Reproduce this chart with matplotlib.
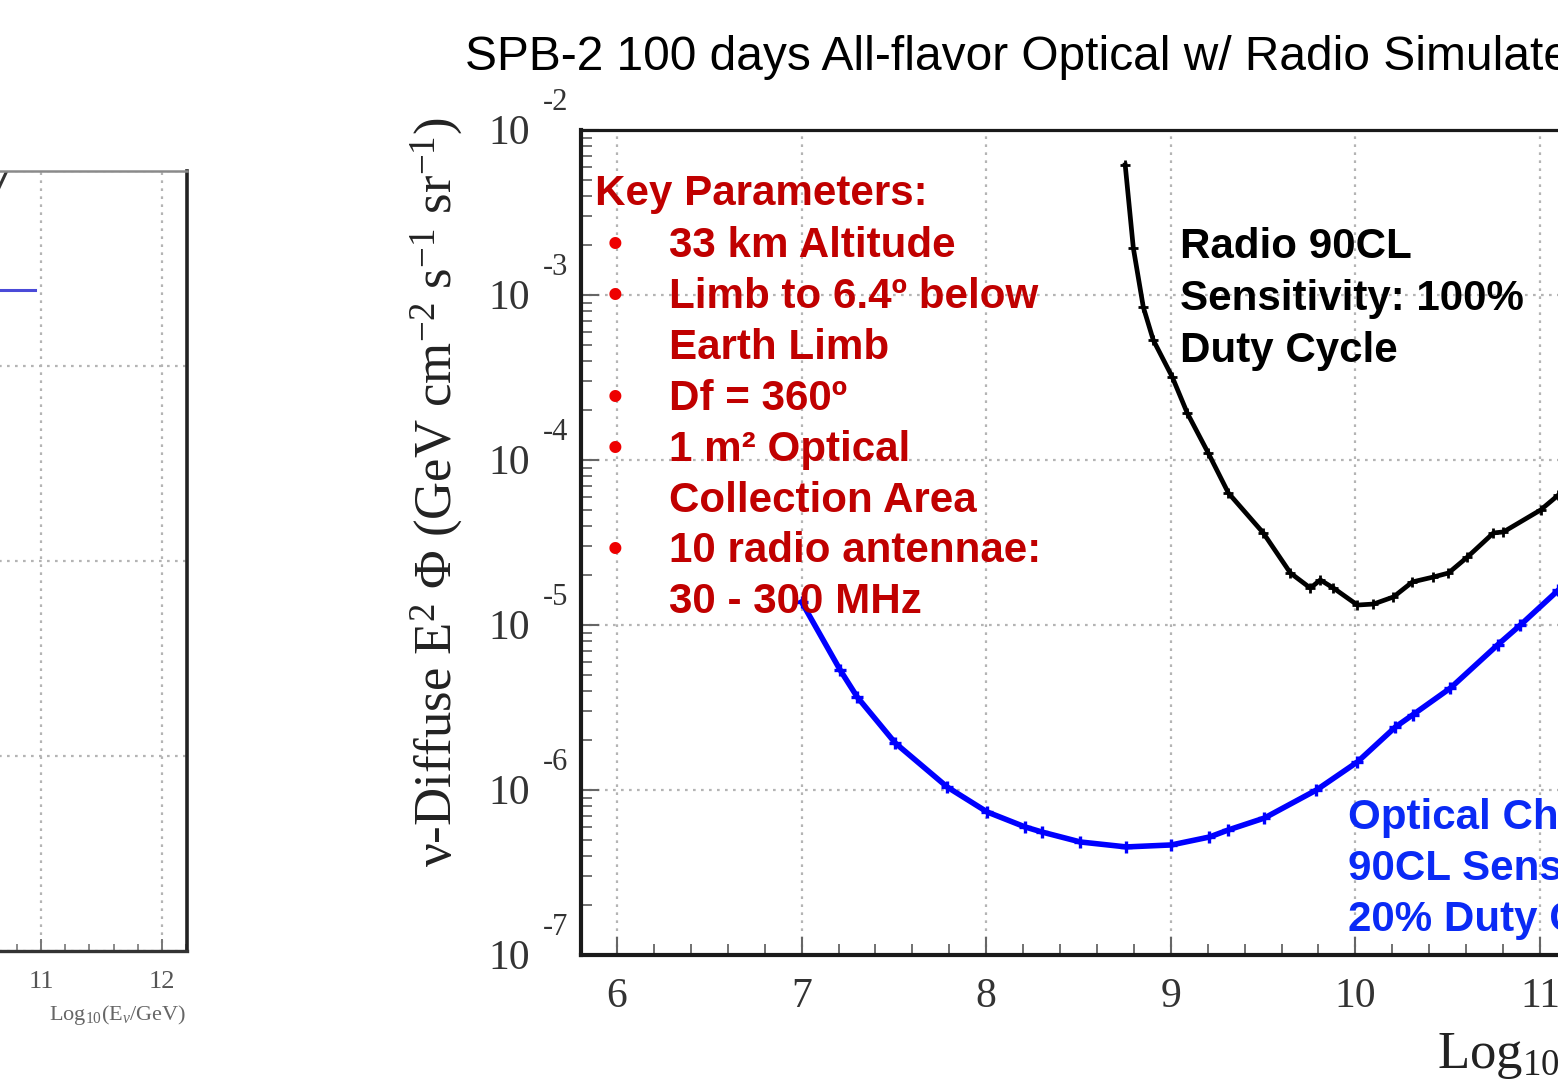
import matplotlib
matplotlib.use("Agg")
import matplotlib.pyplot as plt
from matplotlib.transforms import offset_copy
from matplotlib.ticker import FixedLocator, MultipleLocator, LogLocator, NullFormatter
import numpy as np

plt.rcParams['mathtext.fontset'] = 'custom'
plt.rcParams['mathtext.rm'] = 'Liberation Serif'
plt.rcParams['mathtext.it'] = 'Liberation Serif:italic'
plt.rcParams['mathtext.bf'] = 'Liberation Serif:bold'

W, H, DPI = 1558, 1080, 100

# ---- data: log10(E/GeV) and log10(E^2 Phi) ----
radio_logE = [8.753, 8.797, 8.851, 8.905, 9.008, 9.089, 9.203, 9.312, 9.501,
              9.648, 9.756, 9.810, 9.881, 10.011, 10.098, 10.206, 10.309,
              10.423, 10.504, 10.607, 10.748, 10.802, 11.003, 11.100, 11.200]
radio_logF = [-2.212, -2.715, -3.073, -3.273, -3.497, -3.715, -3.958, -4.200,
              -4.442, -4.685, -4.776, -4.727, -4.776, -4.879, -4.873, -4.830,
              -4.739, -4.709, -4.685, -4.588, -4.442, -4.436, -4.303, -4.212,
              -4.130]

optical_logE = [7.00, 7.209, 7.301, 7.507, 7.789, 8.005, 8.211, 8.303, 8.510,
                8.759, 9.003, 9.209, 9.312, 9.507, 9.789, 10.011, 10.217,
                10.310, 10.515, 10.770, 10.894, 11.100, 11.200]
optical_logF = [-4.860, -5.273, -5.436, -5.715, -5.982, -6.133, -6.224, -6.255,
                -6.315, -6.345, -6.333, -6.285, -6.242, -6.170, -6.000, -5.830,
                -5.618, -5.545, -5.382, -5.121, -5.000, -4.788, -4.690]

# neighbouring panel (only its right edge is in view)
left_blue_logE = [10.60, 10.95]
left_blue_logF = [-4.61, -4.61]
left_black_logE = [10.62, 10.74]
left_black_logF = [-4.13, -3.97]

x_major = [6, 7, 8, 9, 10, 11, 12]
y_decades = [-2, -3, -4, -5, -6, -7]
left_x_major = [11, 12]

title_text = "SPB-2 100 days All-flavor Optical w/ Radio Simulated"
key_header = "Key Parameters:"
key_lines = [(True, "33 km Altitude"),
             (True, "Limb to 6.4\u00ba below"),
             (False, "Earth Limb"),
             (True, "Df = 360\u00ba"),
             (True, "1 m\u00b2 Optical"),
             (False, "Collection Area"),
             (True, "10 radio antennae:"),
             (False, "30 - 300 MHz")]
radio_lines = ["Radio 90CL", "Sensitivity: 100%", "Duty Cycle"]
optical_lines = ["Optical Cherenkov", "90CL Sensitivity:", "20% Duty Cycle"]

SERIF = 'Liberation Serif'
SANS = 'Liberation Sans'


def fx(px):
    return px / W


def fy(py):
    return 1 - py / H


fig = plt.figure(figsize=(W / DPI, H / DPI), dpi=DPI, facecolor='white')

grid_kw = dict(color='#b4b4b4', lw=1.6, ls=(0, (1.2, 2.4)))

# ---------------- neighbouring panel ----------------
lx0, lx1 = 10.0, 12.207
l_ppd = 121.0
l_left = 187 - (lx1 - lx0) * l_ppd
axL = fig.add_axes([fx(l_left), fy(951), fx((lx1 - lx0) * l_ppd), (951 - 171) / H])
axL.set_xlim(lx0, lx1)
axL.set_yscale('log')
axL.set_ylim(1e-8, 1e-4)
axL.plot(left_blue_logE, 10 ** np.array(left_blue_logF), color='#4a4ad8', lw=2.2)
axL.plot(left_black_logE, 10 ** np.array(left_black_logF), color='#333333', lw=2.2)
axL.xaxis.set_major_locator(FixedLocator(left_x_major))
axL.xaxis.set_minor_locator(MultipleLocator(0.2))
axL.yaxis.set_major_locator(LogLocator(base=10, numticks=10))
axL.yaxis.set_minor_locator(LogLocator(base=10, subs=np.arange(2, 10), numticks=20))
axL.tick_params(axis='both', which='both', direction='in', colors='#777777',
                labelleft=False, labelbottom=False, left=False, top=False, right=False)
axL.tick_params(axis='x', which='major', length=9, width=1.4)
axL.tick_params(axis='x', which='minor', length=5, width=1.2)
axL.grid(True, which='major', **grid_kw)
axL.spines['top'].set_color('#8a8a8a')
axL.spines['top'].set_linewidth(1.8)
axL.spines['bottom'].set_color('#333333')
axL.spines['bottom'].set_linewidth(2.4)
axL.spines['right'].set_color('#222222')
axL.spines['right'].set_linewidth(2.6)
for v in left_x_major:
    axL.text(v, 0, str(v), transform=offset_copy(axL.get_xaxis_transform(), fig=fig, x=0, y=-37, units='dots'),
             ha='center', va='baseline', fontsize=19, family=SERIF, color='#555555')
fig.text(fx(186), fy(1020), r'Log$_{10}$(E$_{\nu}$/GeV)', ha='right', va='baseline',
         fontsize=16, family=SERIF, color='#666666')

# ---------------- main panel ----------------
x0, x1 = 5.805, 12.2
ppd = 184.6
ax = fig.add_axes([fx(581), fy(955), fx((x1 - x0) * ppd), (955 - 130) / H])
ax.set_xlim(x0, x1)
ax.set_yscale('log')
ax.set_ylim(1e-7, 1e-2)

ax.plot(radio_logE, 10 ** np.array(radio_logF), color='black', lw=3.4,
        marker='+', ms=7, mew=2.0, zorder=4)
ax.plot(optical_logE, 10 ** np.array(optical_logF), color='#0000ff', lw=4.0,
        marker='+', ms=9, mew=2.4, zorder=4)

ax.xaxis.set_major_locator(FixedLocator(x_major))
ax.xaxis.set_minor_locator(MultipleLocator(0.2))
ax.yaxis.set_major_locator(LogLocator(base=10, numticks=10))
ax.yaxis.set_minor_locator(LogLocator(base=10, subs=np.arange(2, 10), numticks=20))
ax.yaxis.set_minor_formatter(NullFormatter())
ax.tick_params(axis='both', which='both', direction='in', colors='#666666',
               labelleft=False, labelbottom=False, top=False, right=False)
ax.tick_params(axis='both', which='major', length=13, width=1.5)
ax.tick_params(axis='both', which='minor', length=8, width=1.3)
ax.grid(True, which='major', **grid_kw)
ax.spines['left'].set_linewidth(3.0)
ax.spines['bottom'].set_linewidth(3.0)
ax.spines['top'].set_linewidth(2.3)
for s in ['left', 'bottom', 'top']:
    ax.spines[s].set_color('#1a1a1a')
ax.spines['right'].set_visible(False)

for v in x_major:
    ax.text(v, 0, str(v), transform=offset_copy(ax.get_xaxis_transform(), fig=fig, x=0, y=-52, units='dots'),
            ha='center', va='baseline', fontsize=30, family=SERIF, color='#333333')
for d in y_decades:
    ax.text(0, 10.0 ** d, '10', transform=offset_copy(ax.get_yaxis_transform(), fig=fig, x=-51, y=-14, units='dots'),
            ha='right', va='baseline', fontsize=30, family=SERIF, color='#333333')
    ax.text(0, 10.0 ** d, str(d), transform=offset_copy(ax.get_yaxis_transform(), fig=fig, x=-38, y=20, units='dots'),
            ha='left', va='baseline', fontsize=22, family=SERIF, color='#333333')

fig.text(fx(437), fy(492), r'$\mathrm{\nu}$-Diffuse E$^{2}$ $\mathrm{\Phi}$ (GeV cm$^{-2}$ s$^{-1}$ sr$^{-1}$)',
         rotation=90, ha='center', va='center', fontsize=38, family=SERIF, color='#222222')
fig.text(fx(1437), fy(1068), r'Log$_{10}$(E$_{\nu}$/GeV)', ha='left', va='baseline',
         fontsize=38, family=SERIF, color='#222222')

fig.text(fx(465), fy(70), title_text, ha='left', va='baseline', fontsize=34.5,
         family=SANS, color='black')

# annotation blocks
red = '#c00000'
fs_note = 30.3
fig.text(fx(595), fy(205), key_header, ha='left', va='baseline', fontsize=fs_note,
         family=SANS, weight='bold', color=red)
base = 257
step = 50.9
for i, (bullet, line) in enumerate(key_lines):
    yb = base + i * step
    if bullet:
        fig.text(fx(615), fy(yb), '\u2022', ha='center', va='baseline', fontsize=fs_note,
                 family=SANS, weight='bold', color='#ee0000')
    fig.text(fx(669), fy(yb), line, ha='left', va='baseline', fontsize=fs_note,
             family=SANS, weight='bold', color=red)

for i, line in enumerate(radio_lines):
    fig.text(fx(1180), fy(258 + i * 52), line, ha='left', va='baseline', fontsize=fs_note,
             family=SANS, weight='bold', color='black')

for i, line in enumerate(optical_lines):
    fig.text(fx(1348), fy(829 + i * 51), line, ha='left', va='baseline', fontsize=fs_note,
             family=SANS, weight='bold', color='#0a2af5')

fig.savefig('out.png', dpi=DPI, facecolor='white')
